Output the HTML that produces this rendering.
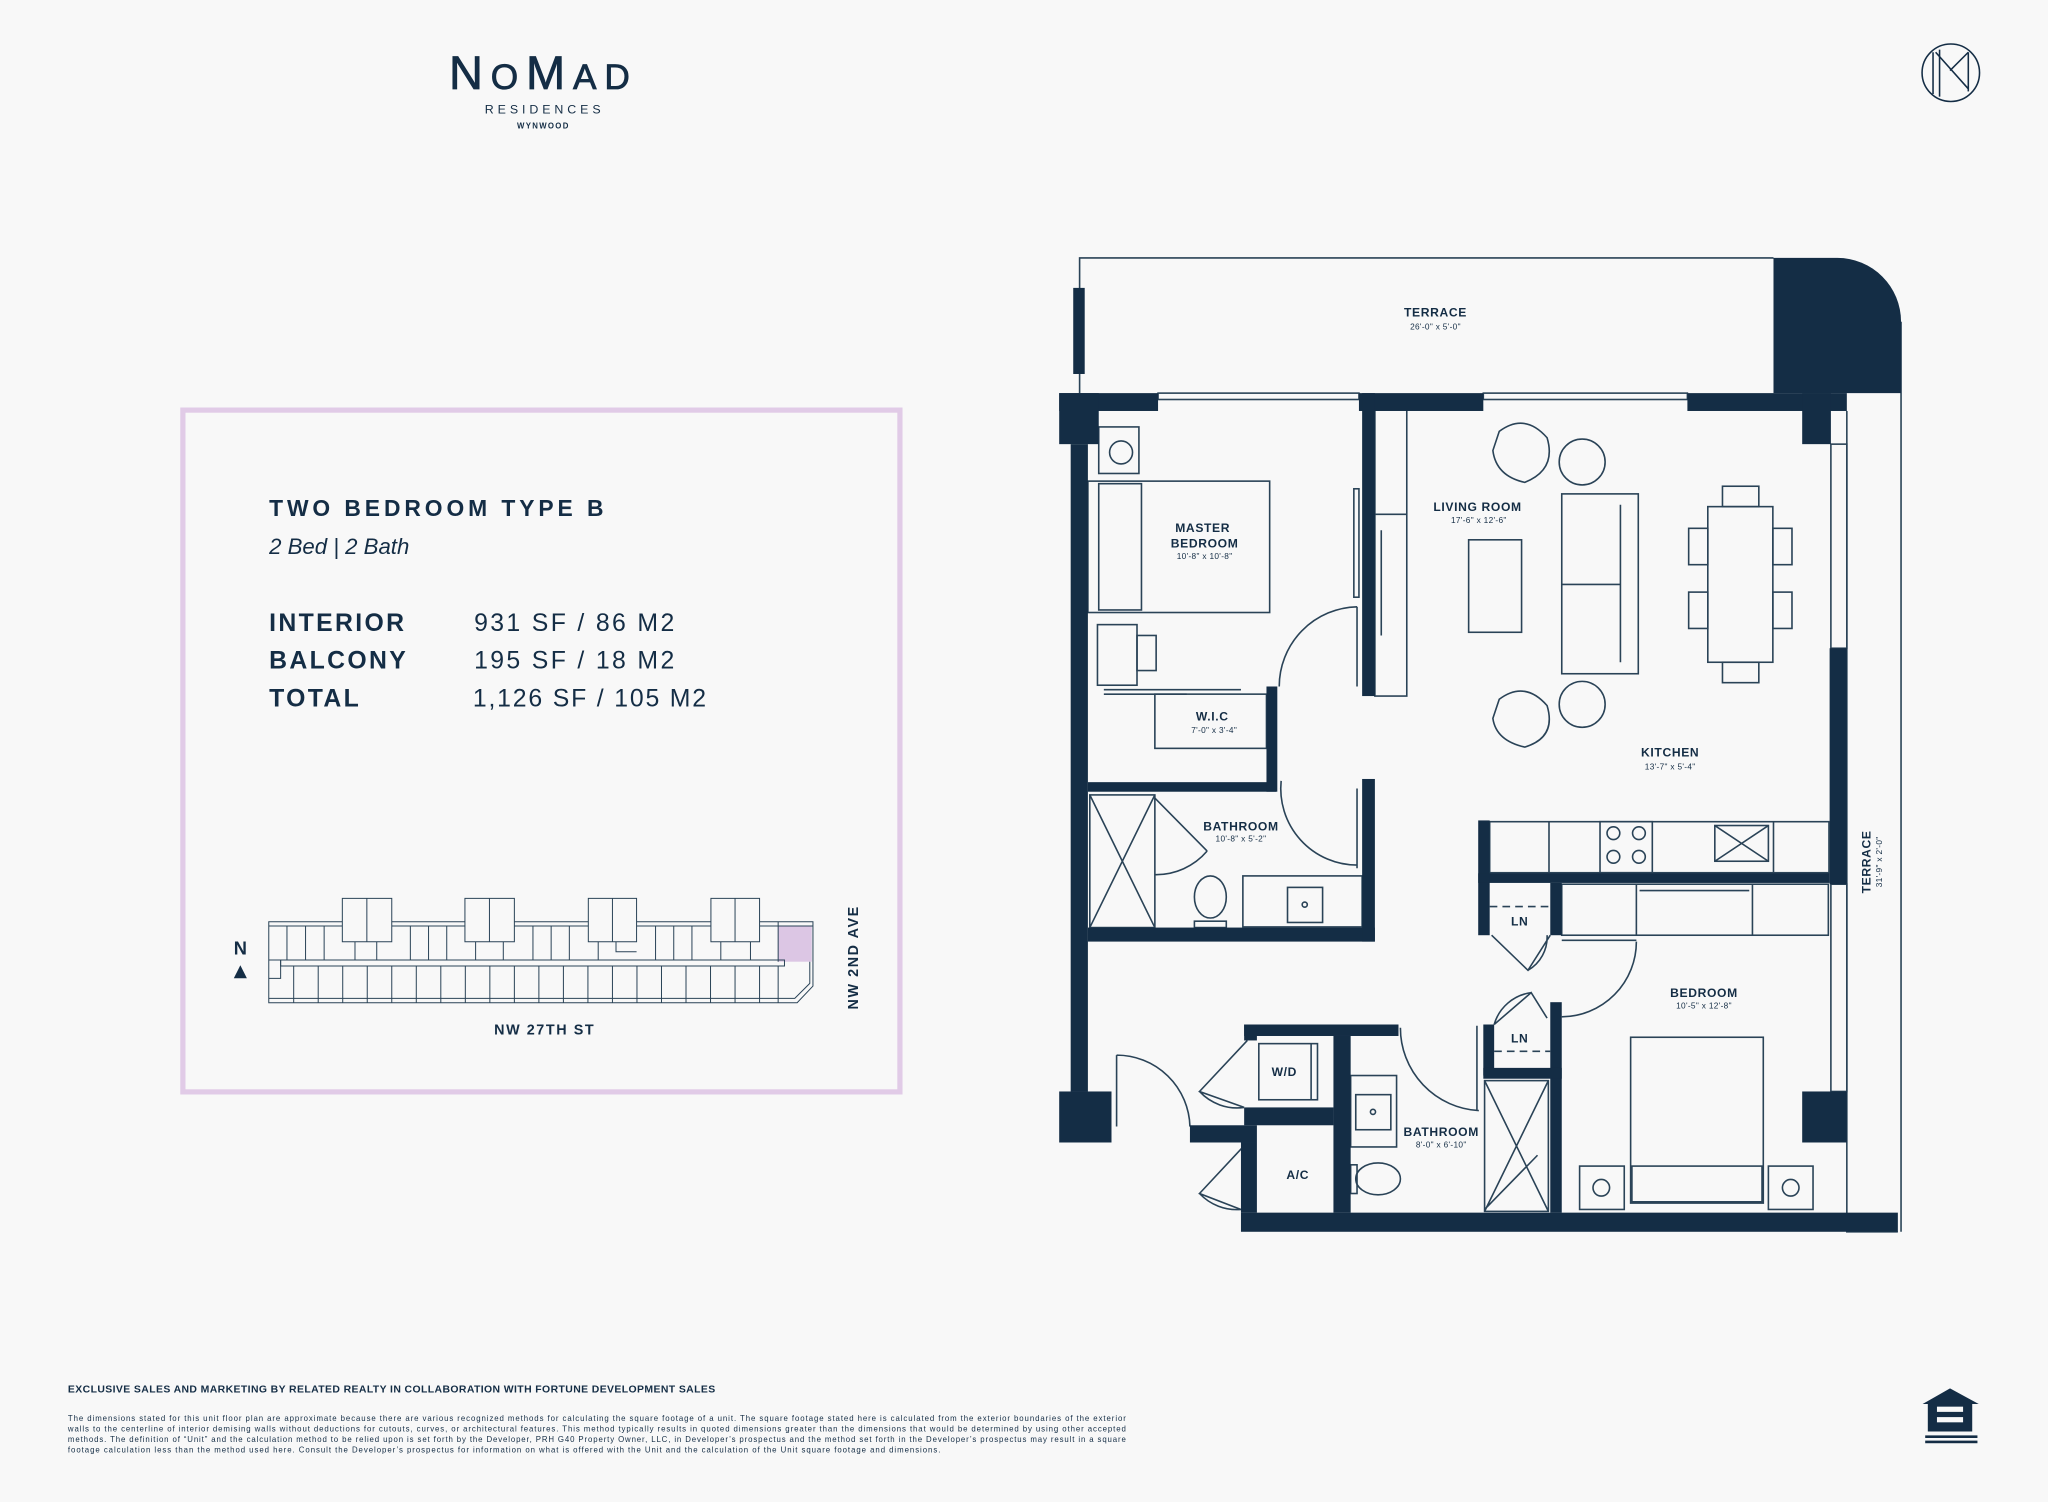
<!DOCTYPE html>
<html><head><meta charset="utf-8"><style>
html,body{margin:0;padding:0;background:#f8f8f8;}
svg{display:block;}
text{font-family:"Liberation Sans",sans-serif;fill:#142d45;}
</style></head><body>
<svg width="2048" height="1502" viewBox="0 0 1568 1150" xmlns="http://www.w3.org/2000/svg">
<rect width="1568" height="1150" fill="#f8f8f8"/>
<!-- logo -->
<text x="416" y="68" text-anchor="middle" font-size="36" letter-spacing="6" stroke="#142d45" stroke-width="0.6">N<tspan font-size="27">O</tspan>M<tspan font-size="27">AD</tspan></text>
<text x="417" y="87" text-anchor="middle" font-size="9.5" letter-spacing="3">RESIDENCES</text>
<text x="416" y="98.5" text-anchor="middle" font-size="6" font-weight="bold" letter-spacing="1">WYNWOOD</text>
<!-- circle logo -->
<g fill="none" stroke="#142d45" stroke-width="1.2">
<circle cx="1493.6" cy="55.7" r="22"/>
<line x1="1480" y1="40" x2="1480" y2="72"/><line x1="1485" y1="38" x2="1485" y2="74"/>
<line x1="1482" y1="40" x2="1507" y2="68"/><line x1="1493" y1="54" x2="1507" y2="40"/>
<line x1="1507" y1="40" x2="1507" y2="70"/>
</g>
<!-- info box -->
<rect x="140" y="314" width="549" height="522" fill="none" stroke="#e1cbe7" stroke-width="4"/>
<text x="206" y="395" font-size="17.5" font-weight="bold" letter-spacing="3">TWO BEDROOM TYPE B</text>
<text x="206" y="424" font-size="17" font-style="italic" font-family="Liberation Serif,serif">2 Bed | 2 Bath</text>
<g font-size="19" font-weight="bold" letter-spacing="1.8">
<text x="206" y="483">INTERIOR</text><text x="206" y="512">BALCONY</text><text x="206" y="541">TOTAL</text></g>
<g font-size="19" letter-spacing="1.8">
<text x="363" y="483">931 SF / 86 M2</text><text x="363" y="512">195 SF / 18 M2</text><text x="362" y="541" letter-spacing="1.4">1,126 SF / 105 M2</text></g>
<!-- mini site plan -->
<text x="184" y="731" text-anchor="middle" font-size="14" font-weight="bold">N</text>
<polygon points="179,749 184,739 189,749" fill="#142d45"/>
<g transform="translate(199.1,673.8) scale(0.3028,0.2552)" fill="none" stroke="#2a4357" stroke-width="1">
<rect x="1310" y="138" width="85" height="107" fill="#dcc6e4" stroke="none"/>
<polygon points="22,125 1398,125 1398,318 1358,368 22,368" vector-effect="non-scaling-stroke"/>
<line x1="22" y1="138" x2="1398" y2="138" vector-effect="non-scaling-stroke"/>
<polyline points="22,355 1352,355 1390,310 1390,245" vector-effect="non-scaling-stroke"/>
<rect x="52" y="240" width="1274" height="18" vector-effect="non-scaling-stroke"/>
<polyline points="22,240 52,240 52,295 22,295" vector-effect="non-scaling-stroke"/>
<rect x="208" y="55" width="125" height="130" fill="#f8f8f8" vector-effect="non-scaling-stroke"/><line x1="270" y1="55" x2="270" y2="185" vector-effect="non-scaling-stroke"/>
<rect x="518" y="55" width="125" height="130" fill="#f8f8f8" vector-effect="non-scaling-stroke"/><line x1="580" y1="55" x2="580" y2="185" vector-effect="non-scaling-stroke"/>
<rect x="830" y="55" width="122" height="130" fill="#f8f8f8" vector-effect="non-scaling-stroke"/><line x1="891" y1="55" x2="891" y2="185" vector-effect="non-scaling-stroke"/>
<rect x="1140" y="55" width="123" height="130" fill="#f8f8f8" vector-effect="non-scaling-stroke"/><line x1="1201" y1="55" x2="1201" y2="185" vector-effect="non-scaling-stroke"/>
<path d="M68 138V240M115 138V240M162 138V240M380 138V240M426 138V240M472 138V240M690 138V240M736 138V240M782 138V240M1000 138V240M1046 138V240M1092 138V240M1310 125V245M240 185V240M295 185V240M545 185V240M615 185V240M855 185V240M900 185V215H952M1165 185V240M1240 185V240" vector-effect="non-scaling-stroke"/>
<path d="M85 258V368M147 258V368M209 258V368M271 258V368M333 258V368M395 258V368M457 258V368M519 258V368M581 258V368M643 258V368M705 258V368M767 258V368M829 258V368M891 258V368M953 258V368M1015 258V368M1077 258V368M1139 258V368M1201 258V368M1263 258V368M1310 258V368" vector-effect="non-scaling-stroke"/>
</g>
<text x="417" y="792" text-anchor="middle" font-size="11" font-weight="bold" letter-spacing="1.2">NW 27TH ST</text>
<text transform="translate(657,733) rotate(-90)" text-anchor="middle" font-size="11" font-weight="bold" letter-spacing="1.2">NW 2ND AVE</text>
<!-- footer -->
<text x="52" y="1066" font-size="8" font-weight="bold" letter-spacing="0.3">EXCLUSIVE SALES AND MARKETING BY RELATED REALTY IN COLLABORATION WITH FORTUNE DEVELOPMENT SALES</text>
<g font-size="6" fill="#333">
<text x="52" y="1088" textLength="810">The dimensions stated for this unit floor plan are approximate because there are various recognized methods for calculating the square footage of a unit.  The square footage stated here is calculated from the exterior boundaries of the exterior</text>
<text x="52" y="1096" textLength="810">walls to the centerline of interior demising walls without deductions for cutouts, curves, or architectural features. This method typically results in quoted dimensions greater than the dimensions that would be determined by using other accepted</text>
<text x="52" y="1104" textLength="810">methods. The definition of “Unit” and the calculation method to be relied upon is set forth by the Developer, PRH G40 Property Owner, LLC, in Developer’s prospectus and the method set forth in the Developer’s prospectus may result in a square</text>
<text x="52" y="1112" textLength="668">footage calculation less than the method used here. Consult the Developer’s prospectus for information on what is offered with the Unit and the calculation of the Unit square footage and dimensions.</text>
</g>
<!-- equal housing -->
<polygon points="1493,1063 1472,1075 1476,1075 1476,1096 1510,1096 1510,1075 1515,1075" fill="#142d45"/>
<rect x="1483" y="1077" width="20" height="4" fill="#f8f8f8"/><rect x="1483" y="1085" width="20" height="4" fill="#f8f8f8"/>
<rect x="1474" y="1099" width="40" height="2" fill="#142d45"/><rect x="1474" y="1103" width="40" height="2" fill="#142d45"/>

<!-- FLOOR PLAN -->
<g transform="translate(796.3,183.8) scale(0.4883)">
<g fill="none" stroke="#2a4357" stroke-width="2.5">
<path d="M62,240V28H1150"/>
<path d="M1265,268V1555H1345M1350,128V1555"/>
<rect x="185" y="240" width="315" height="10"/><rect x="695" y="240" width="320" height="10"/>
<rect x="1240" y="320" width="25" height="320"/><rect x="1240" y="1010" width="25" height="325"/>
<rect x="92" y="293" width="63" height="73"/><circle cx="127" cy="333" r="18"/>
<rect x="75" y="378" width="285" height="206"/><rect x="92" y="382" width="67" height="198"/>
<rect x="90" y="603" width="62" height="95"/><rect x="152" y="620" width="30" height="55"/>
<path d="M100,705H315M100,712H230"/>
<rect x="180" y="712" width="175" height="85"/>
<path d="M497,575V700M497,575A125,125 0 0 0 375,700"/>
<rect x="492" y="390" width="8" height="170"/>
<rect x="525" y="260" width="50" height="455"/><path d="M525,430H575"/>
<path d="M535,455V620"/>
<circle cx="850" cy="348" r="36"/><circle cx="850" cy="728" r="36"/>
<path d="M720,300 Q760,270 795,310 Q810,360 760,380 Q715,370 710,330Z"/>
<path d="M720,720 Q760,690 795,730 Q810,780 760,795 Q715,785 710,750Z"/>
<rect x="672" y="470" width="83" height="145"/>
<rect x="818" y="398" width="120" height="282"/><path d="M910,415V662M818,540H910"/>
<rect x="1047" y="418" width="102" height="244"/>
<rect x="1070" y="386" width="57" height="32"/><rect x="1070" y="662" width="57" height="32"/>
<rect x="1017" y="452" width="30" height="57"/><rect x="1017" y="552" width="30" height="57"/>
<rect x="1149" y="452" width="30" height="57"/><rect x="1149" y="552" width="30" height="57"/>
<rect x="705" y="912" width="532" height="80"/><path d="M798,912V992M1150,912V992"/>
<rect x="878" y="912" width="82" height="80"/>
<circle cx="899" cy="930" r="10"/><circle cx="939" cy="930" r="10"/><circle cx="899" cy="967" r="10"/><circle cx="939" cy="967" r="10"/>
<rect x="1058" y="918" width="84" height="56"/><path d="M1058,918L1142,974M1142,918L1058,974"/>
<rect x="818" y="1010" width="418" height="80"/><path d="M935,1010V1090M1117,1010V1090M940,1020H1112"/>
<rect x="78" y="870" width="102" height="208"/><path d="M78,870L180,1078M180,870L78,1078"/>
<path d="M180,875L262,958M180,995A105,105 0 0 0 262,958"/>
<ellipse cx="267" cy="1030" rx="25" ry="33"/><rect x="242" y="1068" width="50" height="10"/>
<rect x="318" y="997" width="187" height="80"/><rect x="388" y="1015" width="55" height="55"/><circle cx="415" cy="1042" r="4"/>
<path d="M497,860V985M378,848A120,120 0 0 0 497,980"/>
<path d="M705,1045H800" stroke-dasharray="12,8"/>
<path d="M708,1090L765,1145L800,1090M765,1145A60,60 0 0 0 795,1090"/>
<path d="M712,1272H800" stroke-dasharray="12,8"/>
<path d="M712,1230L770,1180L795,1220M712,1230A70,70 0 0 1 770,1180"/>
<path d="M818,1098H935M935,1100A118,118 0 0 1 818,1218"/>
<rect x="926" y="1250" width="208" height="260"/><rect x="928" y="1452" width="204" height="56"/>
<rect x="846" y="1452" width="70" height="68"/><circle cx="880" cy="1486" r="13"/>
<rect x="1142" y="1452" width="70" height="68"/><circle cx="1177" cy="1486" r="13"/>
<rect x="487" y="1310" width="72" height="112"/><rect x="495" y="1340" width="55" height="55"/><circle cx="522" cy="1367" r="4"/>
<ellipse cx="530" cy="1472" rx="35" ry="25"/><rect x="487" y="1450" width="10" height="45"/>
<rect x="697" y="1318" width="100" height="205"/><path d="M697,1318L797,1523M797,1318L697,1523M697,1520L780,1435"/>
<path d="M565,1235A130,130 0 0 0 688,1365M685,1232V1365"/>
<rect x="343" y="1260" width="92" height="88"/><path d="M425,1260V1348"/>
<path d="M325,1255L250,1335L320,1360M250,1335A80,80 0 0 0 320,1360"/>
<path d="M320,1420L250,1495L315,1520M250,1495A80,80 0 0 0 315,1520"/>
<path d="M120,1278V1390M120,1278A115,115 0 0 1 235,1390"/>
</g>
<g fill="#142d45">
<rect x="52" y="75" width="18" height="135"/>
<path d="M1150,28H1250A100,100 0 0 1 1350,128V240H1150Z"/>
<rect x="30" y="240" width="155" height="28"/><rect x="30" y="240" width="62" height="80"/>
<rect x="500" y="240" width="195" height="28"/>
<rect x="1015" y="240" width="250" height="28"/><rect x="1195" y="240" width="45" height="80"/>
<rect x="48" y="320" width="27" height="1015"/>
<rect x="30" y="1335" width="82" height="80"/>
<rect x="1238" y="640" width="27" height="370"/>
<rect x="1195" y="1335" width="70" height="80"/>
<rect x="315" y="1525" width="1030" height="30"/>
<rect x="505" y="240" width="20" height="475"/>
<rect x="75" y="850" width="295" height="15"/><rect x="355" y="700" width="17" height="165"/>
<rect x="75" y="1078" width="450" height="22"/><rect x="505" y="845" width="20" height="255"/>
<rect x="687" y="910" width="18" height="180"/><rect x="687" y="993" width="551" height="15"/>
<rect x="800" y="1008" width="18" height="82"/>
<rect x="800" y="1195" width="18" height="330"/>
<rect x="695" y="1230" width="17" height="80"/><rect x="695" y="1298" width="123" height="17"/>
<rect x="320" y="1230" width="242" height="18"/><rect x="320" y="1230" width="20" height="25"/>
<rect x="460" y="1248" width="27" height="277"/>
<rect x="320" y="1360" width="140" height="28"/><rect x="235" y="1388" width="105" height="27"/>
<rect x="315" y="1415" width="25" height="110"/>
</g>
<g text-anchor="middle" font-weight="bold" font-size="19" letter-spacing="1">
<text x="620" y="120">TERRACE</text>
<text x="255" y="458">MASTER</text><text x="258" y="482">BEDROOM</text>
<text x="686" y="425">LIVING ROOM</text>
<text x="270" y="753">W.I.C</text>
<text x="988" y="810">KITCHEN</text>
<text x="315" y="926">BATHROOM</text>
<text x="752" y="1075">LN</text><text x="752" y="1258">LN</text>
<text x="1041" y="1187">BEDROOM</text>
<text x="383" y="1311">W/D</text><text x="404" y="1472">A/C</text>
<text x="629" y="1405">BATHROOM</text>
<text transform="translate(1302,975) rotate(-90)">TERRACE</text>
</g>
<g text-anchor="middle" font-size="13" letter-spacing="0.5">
<text x="620" y="140">26'-0" x 5'-0"</text>
<text x="258" y="500">10'-8" x 10'-8"</text>
<text x="688" y="444">17'-6" x 12'-6"</text>
<text x="273" y="773">7'-0" x 3'-4"</text>
<text x="988" y="830">13'-7" x 5'-4"</text>
<text x="315" y="943">10'-8" x 5'-2"</text>
<text x="1041" y="1205">10'-5" x 12'-8"</text>
<text x="629" y="1423">8'-0" x 6'-10"</text>
<text transform="translate(1320,975) rotate(-90)">31'-9" x 2'-0"</text>
</g>
</g>
</svg>
</body></html>
